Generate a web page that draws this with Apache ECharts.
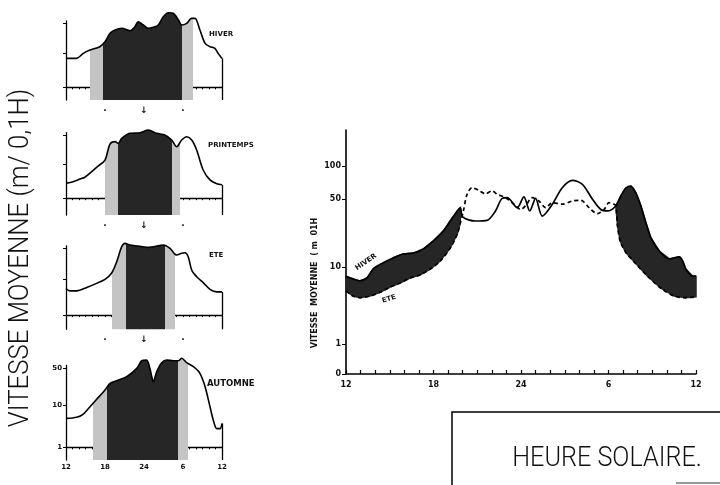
<!DOCTYPE html>
<html><head><meta charset="utf-8">
<script src="https://cdn.jsdelivr.net/npm/echarts@6/dist/echarts.min.js"></script>
<style>html,body{margin:0;padding:0;background:#fff}#c{width:720px;height:485px}</style>
</head><body><div id="c"></div>
<script>
// ---------- DATA ----------
const xTicks = [12, 18, 24, 30, 36];
const xTickLabels = ['12', '18', '24', '6', '12'];
const markerHours = [18, 24, 30];
const markerLabels = ['\u00b7', '\u2193', '\u00b7'];
const mainYTicks = [0.41, 1, 10, 50, 100];
const mainYTickLabels = ['0', '1', '10', '50', '100'];
const smallYTicks = [1, 10, 50];
const smallYTickLabels = ['1', '10', '50'];
const seasonNames = ['HIVER', 'PRINTEMPS', 'ETE', 'AUTOMNE'];

// small panels: [solar hour (12..36), mean speed m/0.1h]
const hiverPanel = [[12,7.1],[13.6,7.1],[14.67,10],[15.7,11.9],[17.2,14.3],[18.0,18.7],[18.77,29.3],[19.54,35],[20.57,38.4],[21.85,33.7],[22.6,41.8],[23.1,54.7],[23.9,45.8],[24.66,38.4],[25.43,40.5],[26.2,45.8],[26.97,71.5],[27.74,88.7],[28.5,85.9],[29.3,59.9],[29.8,45.8],[30.57,50.1],[31.3,65.6],[31.85,65.6],[32.6,35],[33.4,17.1],[34.15,14.3],[34.9,13.1],[35.4,10],[36,7.1]];
const printempsPanel = [[12,2.8],[13.1,3.1],[14.15,3.7],[14.9,4.2],[15.95,6.2],[16.97,9.1],[18.0,12.8],[18.77,30.5],[19.54,34.7],[20.05,31.8],[20.57,41.6],[21.85,54.7],[23.4,56.5],[24.66,65.3],[25.95,54.7],[27.2,49.8],[28.26,38],[29.03,26.4],[29.8,38],[30.57,45.5],[31.34,38],[32.1,22.1],[33.1,6.9],[34.15,3.5],[35.2,2.7],[36,2.5]];
const etePanel = [[12,5.6],[12.6,4.8],[13.65,4.8],[15.2,6.0],[16.7,7.8],[18.0,10.1],[19.0,13.8],[19.8,25],[20.57,54.3],[21.08,64.5],[21.85,59.1],[23.1,56.2],[24.4,52.5],[25.43,54.3],[26.97,59.1],[28.0,49.9],[29.03,35.3],[29.8,38.6],[30.3,39.8],[30.8,32.4],[31.34,16.3],[32.1,11.6],[33.1,8.2],[34.15,5.3],[35.2,4.5],[36,4.5]];
const automnePanel = [[12,4.9],[13.65,5.2],[14.67,6.2],[15.7,9.3],[16.72,13],[18.0,19.5],[18.77,26.1],[19.8,29.2],[21.34,34.7],[22.88,50],[23.65,69.6],[24.4,71.8],[24.9,50],[25.2,34.7],[25.43,27.9],[25.95,43.1],[26.72,63.9],[27.5,71.8],[28.5,69.6],[29.28,69.6],[29.8,77.4],[30.57,63.9],[31.6,53.7],[32.6,40.3],[33.4,22.5],[34.15,9.3],[34.65,4.5],[35.2,2.8],[35.7,2.8],[36,3.7]];
// twilight start, night start, night end, dawn end (solar hour)
const hiverBands = [15.7, 17.7, 29.8, 31.5];
const printempsBands = [18.0, 20.05, 28.26, 29.5];
const eteBands = [19.0, 21.2, 27.2, 28.8];
const automneBands = [16.2, 18.3, 29.3, 30.7];

// main chart
const hiverMain = [[12,7.6],[12.48,7.0],[12.96,6.6],[13.44,7.2],[13.86,9.4],[14.54,11],[15.23,12.4],[15.92,13.6],[16.61,13.9],[17.3,15.3],[17.98,18.5],[18.67,23.4],[19.15,29.7],[19.63,37.7],[19.84,40.5],[20.0,32.7],[20.87,29.7],[21.68,30.2],[22.25,37.7],[22.71,50.7],[23.05,51.4],[23.74,40.7],[24.2,52.2],[24.6,37.7],[25.0,50.7],[25.46,33.4],[26.15,44.2],[26.83,63.4],[27.52,74],[28.21,68],[28.9,49.7],[29.47,39],[29.93,37.7],[30.5,42.4],[30.84,53],[31.19,63],[31.53,65.6],[31.88,56.6],[32.22,42.4],[32.57,28.3],[32.91,19.9],[33.48,14.6],[34.17,12.1],[34.86,12.7],[35.09,11.5],[35.3,9.4],[35.78,7.6],[36,7.6]];
const eteMain = [[12,4.9],[12.48,4.2],[12.96,4.0],[13.65,4.2],[14.34,4.7],[15.03,5.5],[15.71,6.2],[16.4,7.2],[17.09,7.9],[17.78,9.4],[18.46,11.5],[19.15,15.7],[19.63,21.8],[19.84,28.3],[20.05,37.7],[20.3,55],[20.65,63.4],[21.1,60],[21.56,55.8],[22.02,59.2],[22.37,55.2],[22.94,51.4],[23.51,44.2],[23.97,39.1],[24.31,42.4],[24.77,51.4],[25.23,47.7],[25.69,40.7],[26.15,45.8],[26.83,44.2],[27.52,47.7],[28.1,48.4],[28.67,40.7],[29.24,35.3],[29.7,39.1],[30.04,45.8],[30.38,44.2],[30.5,42.4],[30.62,26.4],[30.8,18.5],[31.19,14.1],[31.76,11.3],[32.68,7.6],[33.6,5.3],[34.5,4.2],[35.3,4.0],[36,4.1]];
const mainBandEdges = [19.84, 30.5]; // shaded day band: before first, after second

// ---------- SCALES (hand-drawn log scales of the figure) ----------
const L50 = Math.log10(50);
function fMain(v) {
  const L = Math.log10(v);
  if (L <= 1) return 30 + L * 77;
  if (L <= L50) return 107 + (L - 1) / (L50 - 1) * 68;
  if (L <= 2) return 175 + (L - L50) / (2 - L50) * 33;
  return 208 + (L - 2) * 110;
}
function fSmall(v) {
  const L = Math.log10(v);
  if (L <= 1) return L;
  return 1 + (L - 1) * 0.88 / (L50 - 1);
}

// ---------- OPTION ----------
const FONT = 'DejaVu Sans';
const LIGHT = '#c4c4c4', DARK = '#262626';
const panels = [
  { data: hiverPanel, bands: hiverBands, top: 21, height: 79, min: -0.37 },
  { data: printempsPanel, bands: printempsBands, top: 132.6, height: 82.4, min: -0.5 },
  { data: etePanel, bands: eteBands, top: 245.8, height: 83.5, min: -0.4 },
  { data: automnePanel, bands: automneBands, top: 365.4, height: 94.6, min: -0.3 }
];
const xLabelFmt = v => { const i = xTicks.indexOf(v); return i >= 0 ? xTickLabels[i] : ''; };
const markFmt = v => { const i = markerHours.indexOf(v); return i >= 0 ? markerLabels[i] : ''; };

const grid = panels.map(p => ({ left: 66, width: 156, top: p.top, height: p.height }));
grid.push({ left: 346, right: 24, top: 130, height: 244 });

const xAxis = panels.map((p, i) => ({
  gridIndex: i, type: 'value', min: 12, max: 36, interval: 1,
  axisLine: { lineStyle: { color: '#000', width: 1.3 } },
  axisTick: { length: 2, lineStyle: { color: '#000' } },
  axisLabel: i === 3
    ? { customValues: xTicks, formatter: xLabelFmt, fontSize: 7, fontWeight: 'bold', fontFamily: FONT, color: '#111', margin: 4 }
    : { customValues: markerHours, formatter: markFmt, fontSize: 9, fontWeight: 'bold', fontFamily: FONT, color: '#111', margin: 6 },
  splitLine: { show: false }
}));
xAxis.push({
  gridIndex: 4, type: 'value', min: 12, max: 36, interval: 1,
  axisLine: { lineStyle: { color: '#000', width: 1.6 } },
  axisTick: { inside: true, length: 4, lineStyle: { color: '#000', width: 1.2 } },
  axisLabel: { customValues: xTicks, formatter: xLabelFmt, fontSize: 8, fontWeight: 'bold', fontFamily: FONT, color: '#111', margin: 7 },
  splitLine: { show: false }
});

const smallTickPos = smallYTicks.map(fSmall);
const yAxis = panels.map((p, i) => ({
  gridIndex: i, type: 'value', min: p.min, max: 1.95,
  axisLine: { show: true, lineStyle: { color: '#000', width: 1.3 } },
  axisTick: { show: true, customValues: smallTickPos, length: 3, lineStyle: { color: '#000' } },
  axisLabel: i === 3 ? {
    customValues: smallTickPos, fontSize: 7, fontWeight: 'bold', fontFamily: FONT, color: '#111', margin: 4,
    formatter: v => { const k = smallTickPos.findIndex(t => Math.abs(t - v) < 1e-6); return k >= 0 ? smallYTickLabels[k] : ''; }
  } : { show: false },
  splitLine: { show: false }
}));
const mainTickPos = mainYTicks.map(fMain);
yAxis.push({
  gridIndex: 4, type: 'value', min: 0, max: 244,
  axisLine: { show: true, lineStyle: { color: '#000', width: 1.6 } },
  axisTick: { show: true, customValues: mainTickPos, length: 4, lineStyle: { color: '#000' } },
  axisLabel: {
    customValues: mainTickPos, fontSize: 8, fontWeight: 'bold', fontFamily: FONT, color: '#111', margin: 5,
    formatter: v => { const k = mainTickPos.findIndex(t => Math.abs(t - v) < 1e-6); return k >= 0 ? mainYTickLabels[k] : ''; }
  },
  splitLine: { show: false }
});

const series = panels.map((p, i) => {
  const pts = p.data.map(d => [d[0], fSmall(d[1])]);
  const last = pts[pts.length - 1];
  return {
    type: 'line', xAxisIndex: i, yAxisIndex: i, data: pts, smooth: 0.3, showSymbol: false, clip: false,
    lineStyle: { color: '#000', width: 1.6 }, areaStyle: { opacity: 1, origin: 'start' }, z: 3,
    markLine: { silent: true, symbol: 'none', label: { show: false }, lineStyle: { color: '#000', width: 1.3, type: 'solid' },
      data: [[{ coord: [36, p.min] }, { coord: [36, last[1]] }]] }
  };
});
series.push({
  type: 'custom', xAxisIndex: 4, yAxisIndex: 4, data: [[24, 100]], z: 2, silent: true,
  renderItem: function (params, api) {
    const toPt = d => api.coord([d[0], fMain(d[1])]);
    const seg = (lo, hi) => {
      const up = hiverMain.filter(d => d[0] >= lo && d[0] <= hi).map(toPt);
      const dn = eteMain.filter(d => d[0] >= lo && d[0] <= hi).map(toPt).reverse();
      return { type: 'polygon', shape: { points: up.concat(dn) }, style: { fill: DARK, stroke: DARK, lineWidth: 1.5 } };
    };
    return { type: 'group', children: [seg(12, mainBandEdges[0]), seg(mainBandEdges[1], 36)] };
  }
});
series.push({
  name: 'HIVER', type: 'line', xAxisIndex: 4, yAxisIndex: 4, smooth: 0.3, showSymbol: false, z: 3,
  data: hiverMain.map(d => [d[0], fMain(d[1])]), lineStyle: { color: '#000', width: 1.7 }
});
series.push({
  name: 'ETE', type: 'line', xAxisIndex: 4, yAxisIndex: 4, smooth: 0.3, showSymbol: false, z: 3,
  data: eteMain.map(d => [d[0], fMain(d[1])]), lineStyle: { color: '#000', width: 1.7, type: [4, 3] }
});

const visualMap = panels.map((p, i) => ({
  type: 'piecewise', show: false, dimension: 0, seriesIndex: i,
  pieces: [
    { gte: p.bands[0], lt: p.bands[1], color: LIGHT },
    { gte: p.bands[1], lt: p.bands[2], color: DARK },
    { gte: p.bands[2], lt: p.bands[3], color: LIGHT }
  ],
  outOfRange: { color: 'rgba(255,255,255,0)' }
}));

const txt = (text, x, y, size, extra) => Object.assign({
  type: 'text', x: x, y: y, silent: true,
  style: { text: text, fill: '#111', font: 'bold ' + size + 'px "' + FONT + '"', align: 'left', verticalAlign: 'middle', textAlign: 'left', textVerticalAlign: 'middle' }
}, extra || {});

const graphic = [
  txt(seasonNames[0], 209, 34, 7),
  txt(seasonNames[1], 208, 145, 7),
  txt(seasonNames[2], 209, 255, 7),
  txt(seasonNames[3], 207, 384, 8.5),
  txt('HIVER', 366, 262, 7, { rotation: 0.6, style: { text: 'HIVER', fill: '#111', font: 'bold 7px "' + FONT + '"', align: 'center', verticalAlign: 'middle' } }),
  txt('ETE', 389, 299, 7, { rotation: 0.3, style: { text: 'ETE', fill: '#111', font: 'bold 7px "' + FONT + '"', align: 'center', verticalAlign: 'middle' } }),
  { type: 'text', x: 315, y: 283, rotation: Math.PI / 2, silent: true,
    style: { text: 'VITESSE  MOYENNE  ( m  01H', fill: '#111', font: 'bold 8px "' + FONT + '"', align: 'center', verticalAlign: 'middle' } },
  { type: 'text', x: 21, y: 258, rotation: Math.PI / 2, scaleX: 0.92, silent: true,
    style: { text: 'VITESSE MOYENNE (m/ 0,1H)', fill: '#111', font: '300 28px Roboto', align: 'center', verticalAlign: 'middle' } },
  { type: 'rect', silent: true, shape: { x: 452, y: 412, width: 320, height: 200 }, style: { fill: 'none', stroke: '#000', lineWidth: 1.5 } },
  { type: 'text', x: 607, y: 459, scaleX: 0.9, silent: true,
    style: { text: 'HEURE SOLAIRE.', fill: '#111', font: '300 28px Roboto', align: 'center', verticalAlign: 'middle' } },
  { type: 'line', silent: true, shape: { x1: 676, y1: 483, x2: 720, y2: 483 }, style: { stroke: '#999', lineWidth: 2 } }
];

const chart = echarts.init(document.getElementById('c'));
chart.setOption({ animation: false, backgroundColor: '#fff', grid, xAxis, yAxis, series, visualMap, graphic });
</script>
</body></html>
